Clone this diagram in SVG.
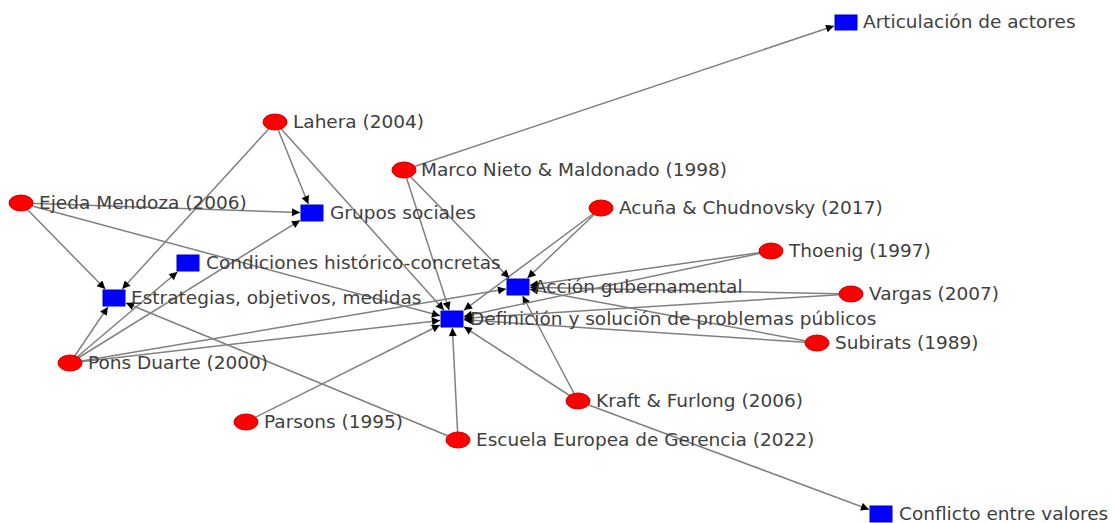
<svg xmlns="http://www.w3.org/2000/svg" width="1115" height="523" viewBox="0 0 1115 523">
<defs>
<marker id="arr" viewBox="0 0 10 10" refX="10" refY="5" markerWidth="9" markerHeight="8" markerUnits="userSpaceOnUse" orient="auto">
<path d="M0,0 L10,5 L0,10 z" fill="#000"/>
</marker>
<style>
.e{stroke:#808080;stroke-width:1.5;fill:none;marker-end:url(#arr)}
.a{fill:#ff0000;stroke:#d00000;stroke-width:1}
.c{fill:#0000ff;stroke:#0000cc;stroke-width:1}
text{font-family:"DejaVu Sans","Liberation Sans",sans-serif;font-size:18.5px;fill:#404040}
</style>
</defs>
<rect width="1115" height="523" fill="#fff"/>
<g id="connectors">
<line class="e" x1="404" y1="170" x2="834" y2="26"/>
<line class="e" x1="275" y1="122" x2="308.3" y2="204"/>
<line class="e" x1="275" y1="122" x2="443.9" y2="310"/>
<line class="e" x1="275" y1="122" x2="122.2" y2="289"/>
<line class="e" x1="21" y1="203" x2="300" y2="212.6"/>
<line class="e" x1="21" y1="203" x2="105.2" y2="289"/>
<line class="e" x1="21" y1="203" x2="440" y2="315.8"/>
<line class="e" x1="70" y1="363" x2="107.9" y2="307"/>
<line class="e" x1="70" y1="363" x2="177.4" y2="272"/>
<line class="e" x1="70" y1="363" x2="300" y2="220.4"/>
<line class="e" x1="70" y1="363" x2="506" y2="289"/>
<line class="e" x1="70" y1="363" x2="440" y2="320.4"/>
<line class="e" x1="246" y1="422" x2="440" y2="325"/>
<line class="e" x1="458" y1="440" x2="452.4" y2="328"/>
<line class="e" x1="458" y1="440" x2="126" y2="303"/>
<line class="e" x1="578" y1="401" x2="869" y2="509.5"/>
<line class="e" x1="578" y1="401" x2="464" y2="326.8"/>
<line class="e" x1="578" y1="401" x2="522.7" y2="296"/>
<line class="e" x1="601" y1="208" x2="527.5" y2="278"/>
<line class="e" x1="601" y1="208" x2="464" y2="310.1"/>
<line class="e" x1="404" y1="170" x2="449.1" y2="310"/>
<line class="e" x1="404" y1="170" x2="509.2" y2="278"/>
<line class="e" x1="771" y1="251" x2="530" y2="285.3"/>
<line class="e" x1="771" y1="251" x2="464" y2="316.4"/>
<line class="e" x1="851" y1="294" x2="530" y2="287.3"/>
<line class="e" x1="851" y1="294" x2="464" y2="318.3"/>
<line class="e" x1="817" y1="343" x2="530" y2="289.2"/>
<line class="e" x1="817" y1="343" x2="464" y2="319.8"/>
</g>
<g id="n-lahera"><ellipse class="a" cx="275" cy="122" rx="12" ry="8"/><text x="293" y="128">Lahera (2004)</text></g>
<g id="n-ejeda"><ellipse class="a" cx="21" cy="203" rx="12" ry="8"/><text x="39" y="209">Ejeda Mendoza (2006)</text></g>
<g id="n-marco"><ellipse class="a" cx="404" cy="170" rx="12" ry="8"/><text x="421" y="176">Marco Nieto &amp; Maldonado (1998)</text></g>
<g id="n-acuna"><ellipse class="a" cx="601" cy="208" rx="12" ry="8"/><text x="619" y="214">Acuña &amp; Chudnovsky (2017)</text></g>
<g id="n-thoenig"><ellipse class="a" cx="771" cy="251" rx="12" ry="8"/><text x="789" y="257">Thoenig (1997)</text></g>
<g id="n-vargas"><ellipse class="a" cx="851" cy="294" rx="12" ry="8"/><text x="869" y="300">Vargas (2007)</text></g>
<g id="n-subirats"><ellipse class="a" cx="817" cy="343" rx="12" ry="8"/><text x="835" y="349">Subirats (1989)</text></g>
<g id="n-pons"><ellipse class="a" cx="70" cy="363" rx="12" ry="8"/><text x="88" y="369">Pons Duarte (2000)</text></g>
<g id="n-kraft"><ellipse class="a" cx="578" cy="401" rx="12" ry="8"/><text x="596" y="407">Kraft &amp; Furlong (2006)</text></g>
<g id="n-parsons"><ellipse class="a" cx="246" cy="422" rx="12" ry="8"/><text x="264" y="428">Parsons (1995)</text></g>
<g id="n-escuela"><ellipse class="a" cx="458" cy="440" rx="12" ry="8"/><text x="476" y="446">Escuela Europea de Gerencia (2022)</text></g>
<g id="n-articulacion"><rect class="c" x="835" y="15" width="22" height="15"/><text x="863" y="28">Articulación de actores</text></g>
<g id="n-grupos"><rect class="c" x="301" y="205" width="22" height="16"/><text x="330" y="219">Grupos sociales</text></g>
<g id="n-condiciones"><rect class="c" x="177" y="255" width="22" height="16"/><text x="206" y="269">Condiciones histórico-concretas</text></g>
<g id="n-estrategias"><rect class="c" x="103" y="290" width="22" height="16"/><text x="131" y="304">Estrategias, objetivos, medidas</text></g>
<g id="n-accion"><rect class="c" x="507" y="279" width="22" height="16"/><text x="534" y="293">Acción gubernamental</text></g>
<g id="n-definicion"><rect class="c" x="441" y="311" width="22" height="16"/><text x="470" y="325">Definición y solución de problemas públicos</text></g>
<g id="n-conflicto"><rect class="c" x="870" y="506" width="22" height="16"/><text x="899" y="520">Conflicto entre valores</text></g>
</svg>
